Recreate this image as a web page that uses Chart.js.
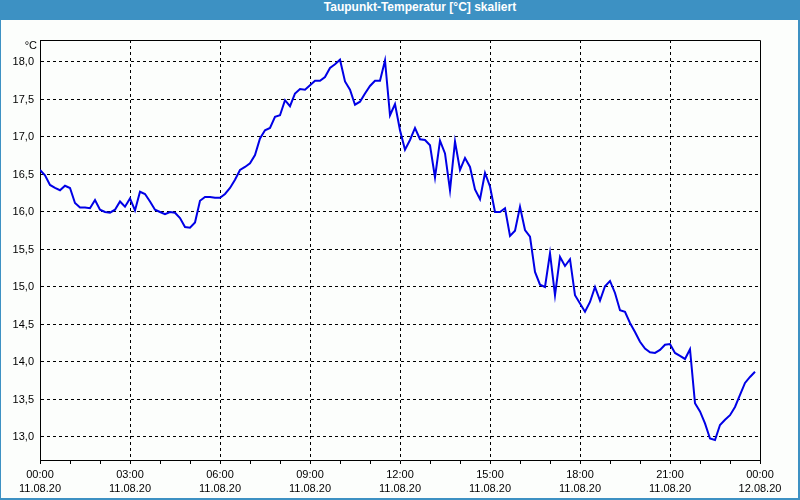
<!DOCTYPE html>
<html>
<head>
<meta charset="utf-8">
<script src="https://cdn.jsdelivr.net/npm/chart.js@4"></script>
<style>
  html, body { margin: 0; padding: 0; }
  #frame { position: relative; width: 800px; height: 500px; background: #3d91c3; overflow: hidden; }
  #title { position: absolute; left: 0; top: 0; width: 840px; height: 20px; line-height: 20px; text-align: center; color: #fff; font: bold 12px "Liberation Sans", Arial, sans-serif; }
  #panel { position: absolute; left: 1px; top: 20px; width: 797px; height: 478px; background: #fcfefc; }
  canvas { display: block; }
</style>
</head>
<body>
<div id="frame">
  <div id="title">Taupunkt-Temperatur [°C] skaliert</div>
  <div id="panel"><canvas id="chart" width="797" height="478"></canvas></div>
</div>
<script>
// Data: dew point every 10 minutes, 11.08.20 00:00 .. 23:50
const stepMinutes = 10;
const dewPoint = [
  16.56, 16.49, 16.36, 16.32, 16.29, 16.35, 16.32, 16.12, 16.06, 16.06,
  16.05, 16.16, 16.03, 16.00, 15.99, 16.03, 16.14, 16.07, 16.18, 16.02,
  16.27, 16.24, 16.14, 16.03, 16.00, 15.97, 16.00, 15.99, 15.92, 15.80,
  15.79, 15.86, 16.15, 16.20, 16.20, 16.19, 16.19, 16.24, 16.32, 16.43,
  16.56, 16.60, 16.65, 16.76, 16.98, 17.09, 17.12, 17.27, 17.29, 17.49,
  17.41, 17.58, 17.64, 17.63, 17.69, 17.75, 17.75, 17.80, 17.92, 17.97,
  18.03, 17.74, 17.63, 17.43, 17.47, 17.58, 17.68, 17.75, 17.75, 18.02,
  17.29, 17.44, 17.09, 16.83, 16.96, 17.12, 16.97, 16.96, 16.89, 16.46,
  16.95, 16.78, 16.29, 16.94, 16.56, 16.72, 16.60, 16.30, 16.17, 16.52,
  16.34, 16.00, 16.00, 16.05, 15.68, 15.75, 16.07, 15.76, 15.67, 15.20,
  15.03, 15.00, 15.45, 14.89, 15.40, 15.28, 15.37, 14.89, 14.78, 14.67,
  14.80, 15.00, 14.82, 15.01, 15.08, 14.92, 14.69, 14.67, 14.52, 14.40,
  14.27, 14.18, 14.13, 14.12, 14.16, 14.23, 14.24, 14.12, 14.08, 14.04,
  14.17, 13.45, 13.34, 13.18, 12.98, 12.96, 13.16, 13.23, 13.29, 13.40,
  13.56, 13.72, 13.80, 13.87
];

const timeLabels = ['00:00', '03:00', '06:00', '09:00', '12:00', '15:00', '18:00', '21:00', '00:00'];
const dateLabels = ['11.08.20', '11.08.20', '11.08.20', '11.08.20', '11.08.20', '11.08.20', '11.08.20', '11.08.20', '12.08.20'];
const yTickValues = [13.0, 13.5, 14.0, 14.5, 15.0, 15.5, 16.0, 16.5, 17.0, 17.5, 18.0];
const yTickLabels = ['13,0', '13,5', '14,0', '14,5', '15,0', '15,5', '16,0', '16,5', '17,0', '17,5', '18,0'];

const fontFamily = '"Liberation Sans", Arial, sans-serif';
const points = dewPoint.map((v, i) => ({ x: i * stepMinutes, y: v }));
const hourTicks = [];
for (let h = 0; h <= 24; h++) hourTicks.push(h * 60);

function isMajor(value) {
    return value % 180 === 0 && value !== 0 && value !== 1440;
}

// frame round the plot and the unit label
const framePlugin = {
    id: 'frame',
    afterDraw(chart) {
        const ctx = chart.ctx;
        const a = chart.chartArea;
        ctx.save();
        ctx.strokeStyle = '#000';
        ctx.lineWidth = 1;
        ctx.beginPath();
        ctx.moveTo(Math.round(a.left) + 0.5, Math.round(a.top) + 0.5);
        ctx.lineTo(Math.round(a.right) + 0.5, Math.round(a.top) + 0.5);
        ctx.lineTo(Math.round(a.right) + 0.5, Math.round(a.bottom) + 0.5);
        ctx.stroke();
        ctx.fillStyle = '#000';
        ctx.font = '11px ' + fontFamily;
        ctx.textAlign = 'right';
        ctx.textBaseline = 'middle';
        ctx.fillText('°C', 36, 26);
        ctx.restore();
    }
};

const chart = new Chart(document.getElementById('chart').getContext('2d'), {
    type: 'line',
    data: {
        datasets: [{
            data: points,
            borderColor: '#0000e6',
            borderWidth: 2,
            pointRadius: 0,
            tension: 0,
            fill: false
        }]
    },
    options: {
        responsive: false,
        animation: false,
        layout: { padding: { top: 20, right: 38, left: 0, bottom: 0 } },
        plugins: {
            legend: { display: false },
            tooltip: { enabled: false }
        },
        scales: {
            x: {
                type: 'linear',
                min: 0,
                max: 1440,
                afterBuildTicks: s => { s.ticks = hourTicks.map(v => ({ value: v })); },
                afterFit: s => { s.height = 38; },
                grid: {
                    color: c => isMajor(c.tick.value) ? '#000' : 'rgba(0,0,0,0)',
                    tickColor: '#000',
                    tickLength: 4,
                    lineWidth: 1
                },
                border: { color: '#000', width: 1, dash: [3, 3] },
                ticks: {
                    autoSkip: false,
                    maxRotation: 0,
                    padding: 4,
                    color: '#000',
                    font: { family: fontFamily, size: 11, lineHeight: 1.3 },
                    callback: value => {
                        if (value % 180 !== 0) return '';
                        const k = value / 180;
                        return [timeLabels[k], dateLabels[k]];
                    }
                }
            },
            y: {
                min: 12.693,
                max: 18.293,
                afterBuildTicks: s => { s.ticks = yTickValues.map(v => ({ value: v })); },
                afterFit: s => { s.width = 39; },
                grid: { color: '#000', drawTicks: false, lineWidth: 1 },
                border: { color: '#000', width: 1, dash: [3, 3] },
                ticks: {
                    padding: 6,
                    color: '#000',
                    font: { family: fontFamily, size: 11 },
                    callback: value => yTickLabels[yTickValues.indexOf(value)]
                }
            }
        }
    },
    plugins: [framePlugin]
});
</script>
</body>
</html>
